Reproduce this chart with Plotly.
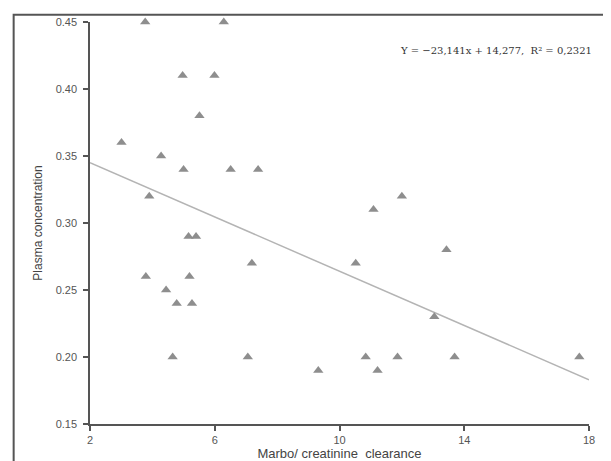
import plotly.graph_objects as go

# Data
clearance = [3.77, 6.29, 4.97, 5.99, 5.51, 3.01, 4.28, 5.00, 6.51, 7.39, 3.90,
             5.16, 5.40, 7.19, 3.79, 5.19, 4.44, 4.78, 5.27, 4.65, 7.06, 9.32,
             12.00, 11.09, 13.43, 10.52, 13.04, 10.84, 11.86, 13.69, 17.69, 11.22]
plasma = [0.45, 0.45, 0.41, 0.41, 0.38, 0.36, 0.35, 0.34, 0.34, 0.34, 0.32,
          0.29, 0.29, 0.27, 0.26, 0.26, 0.25, 0.24, 0.24, 0.20, 0.20, 0.19,
          0.32, 0.31, 0.28, 0.27, 0.23, 0.20, 0.20, 0.20, 0.20, 0.19]
trend_x = [2, 18]
trend_y = [0.345, 0.183]
x_ticks = [2, 6, 10, 14, 18]
y_ticks = [0.15, 0.20, 0.25, 0.30, 0.35, 0.40, 0.45]
equation = "Y = \u221223,141x + 14,277,  R\u00b2 = 0,2321"

fig = go.Figure()
fig.add_trace(go.Scatter(x=trend_x, y=trend_y, mode="lines",
                         line=dict(color="#b4b4b4", width=1.5),
                         hoverinfo="skip", showlegend=False, cliponaxis=False))
fig.add_trace(go.Scatter(x=clearance, y=plasma, mode="markers",
                         marker=dict(symbol="triangle-up", size=9, color="#8e8e8e"),
                         showlegend=False, cliponaxis=False))

axis_common = dict(showgrid=False, zeroline=False, showline=True, automargin=False,
                   linecolor="#555555", linewidth=1.5, ticks="outside",
                   ticklen=5, tickcolor="#555555", tickwidth=1.5,
                   tickfont=dict(family="Liberation Sans, Arial", size=11, color="#555555"))

fig.update_xaxes(range=[2, 18], tickvals=x_ticks, ticktext=[str(v) for v in x_ticks],
                 title=dict(text="Marbo/ creatinine  clearance",
                            font=dict(family="Liberation Sans, Arial", size=13, color="#444444"),
                            standoff=4),
                 **axis_common)
fig.update_yaxes(range=[0.15, 0.45], tickvals=y_ticks, ticktext=[f"{v:.2f}" for v in y_ticks],
                 title=dict(text="Plasma concentration",
                            font=dict(family="Liberation Sans, Arial", size=12, color="#444444"),
                            standoff=10),
                 ticklabelstandoff=4,
                 **axis_common)

fig.add_annotation(text=equation, xref="paper", yref="paper", x=1.01, y=0.93,
                   xanchor="right", yanchor="middle", showarrow=False,
                   font=dict(family="DejaVu Serif, Liberation Serif", size=10, color="#333333"))

# outer frame of the picture (right and bottom edges fall outside the page)
fig.add_shape(type="rect", xref="paper", yref="paper",
              x0=-0.153, x1=1.07, y0=-0.125, y1=1.018,
              line=dict(color="#555555", width=2))

fig.update_layout(width=611, height=461,
                  margin=dict(l=82, r=30, t=14, b=45),
                  paper_bgcolor="white", plot_bgcolor="white")

fig.write_html("out.html")
